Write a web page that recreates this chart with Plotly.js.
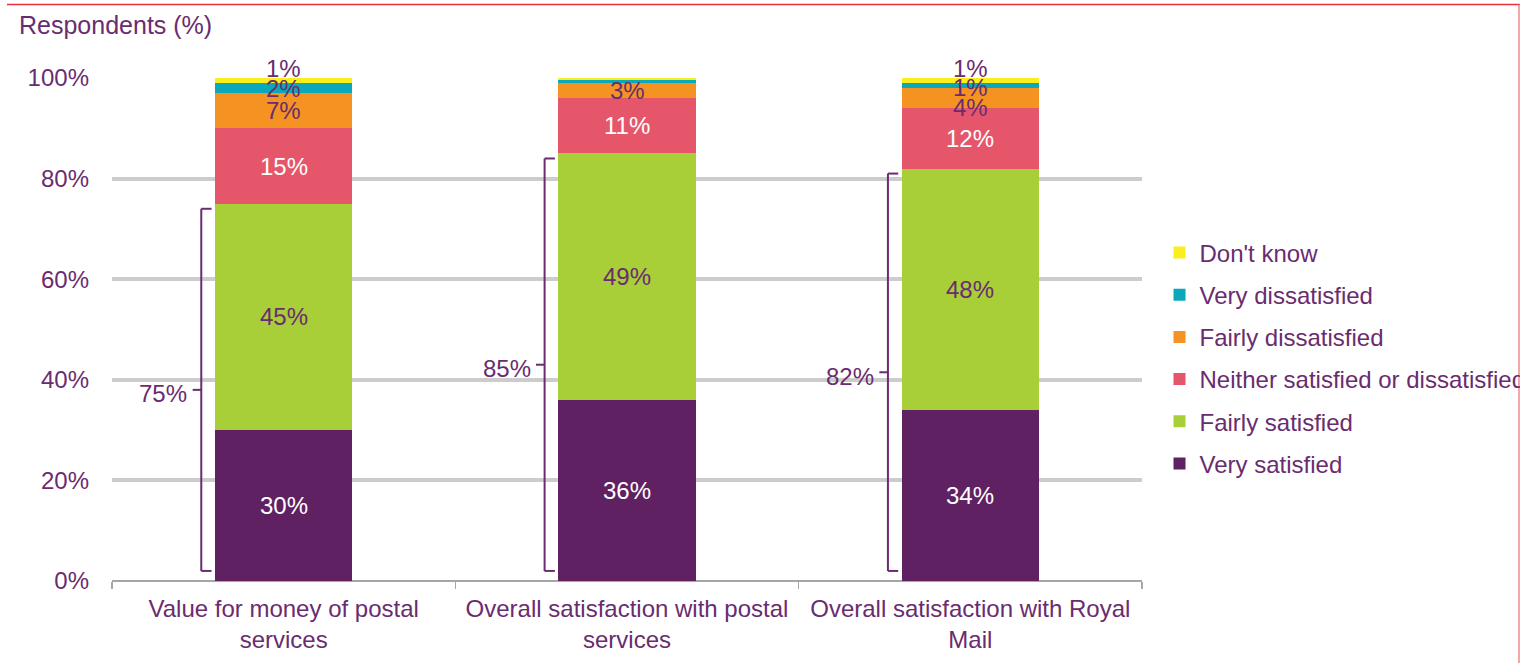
<!DOCTYPE html>
<html>
<head>
<meta charset="utf-8">
<script src="https://cdn.plot.ly/plotly-3.0.1.min.js"></script>
<style>html,body{margin:0;padding:0;background:#fff;overflow:hidden}</style>
</head>
<body>
<div id="chart" style="width:1520px;height:663px"></div>
<script>
// ---- data ----
const categories = ['Value for money of postal services', 'Overall satisfaction with postal services', 'Overall satisfaction with Royal Mail'];
const tickLabels = ['Value for money of postal<br>services', 'Overall satisfaction with postal<br>services', 'Overall satisfaction with Royal<br>Mail'];
const seriesNames = ['Very satisfied', 'Fairly satisfied', 'Neither satisfied or dissatisfied', 'Fairly dissatisfied', 'Very dissatisfied', "Don't know"];
const verySatisfied = [30, 36, 34];
const fairlySatisfied = [45, 49, 48];
const neitherSatisfied = [15, 11, 12];
const fairlyDissatisfied = [7, 3, 4];
const veryDissatisfied = [2, 0.6, 1];
const dontKnow = [1, 0.4, 1];
const yTickVals = [0, 20, 40, 60, 80, 100];
const yTickText = ['0%', '20%', '40%', '60%', '80%', '100%'];

// ---- styling ----
const series = [verySatisfied, fairlySatisfied, neitherSatisfied, fairlyDissatisfied, veryDissatisfied, dontKnow];
const colors = ['#5f2162', '#a8ce38', '#e5566a', '#f49322', '#0aa8b8', '#fbee1d'];
const purple = '#6a2c70';
const labelColors = ['#ffffff', purple, '#ffffff', purple, purple, purple];
const FONT = 'Liberation Sans, Arial, sans-serif';
const FS = 24;
// small manual label nudges (px) for thin segments, as in the reference
const labelShift = {'5-0': 12, '5-2': 12, '4-2': -2, '3-2': -9};

const traces = series.map((vals, i) => ({
  type: 'bar',
  name: seriesNames[i],
  x: categories,
  y: vals,
  width: 0.4,
  marker: {color: colors[i], line: {width: 0}},
  legendgroup: 'g' + i,
  legendrank: series.length - i,
  hoverinfo: 'skip'
}));

const annotations = [];
// segment labels
for (let j = 0; j < categories.length; j++) {
  let base = 0;
  for (let i = 0; i < series.length; i++) {
    const v = series[i][j];
    if (v >= 1) {
      annotations.push({
        x: categories[j], y: base + v / 2, xref: 'x', yref: 'y',
        text: Math.round(v) + '%', showarrow: false,
        font: {family: FONT, size: FS, color: labelColors[i]},
        yshift: labelShift[i + '-' + j] || 0
      });
    }
    base += v;
  }
}

// brackets for total satisfied
const shapes = [];
const bracketBottom = 2;
for (let j = 0; j < categories.length; j++) {
  const total = verySatisfied[j] + fairlySatisfied[j];
  const top = total - 1;
  const mid = (top + bracketBottom) / 2;
  const bx = j - 0.24;
  const ln = {color: purple, width: 2};
  shapes.push({type: 'line', xref: 'x', yref: 'y', x0: bx, x1: bx, y0: bracketBottom, y1: top, line: ln});
  shapes.push({type: 'line', xref: 'x', yref: 'y', x0: bx, x1: bx + 0.03, y0: top, y1: top, line: ln});
  shapes.push({type: 'line', xref: 'x', yref: 'y', x0: bx, x1: bx + 0.03, y0: bracketBottom, y1: bracketBottom, line: ln});
  shapes.push({type: 'line', xref: 'x', yref: 'y', x0: bx, x1: bx - 0.025, y0: mid, y1: mid, line: ln});
  annotations.push({
    x: j - 0.275, y: mid, xref: 'x', yref: 'y', xanchor: 'right',
    text: total + '%', showarrow: false, yshift: -4,
    font: {family: FONT, size: FS, color: purple}
  });
}

// frame lines (red) at top and right
shapes.push({type: 'line', xref: 'paper', yref: 'paper', x0: -0.102, x1: 1.37, y0: 1.146, y1: 1.146, line: {color: '#e8323c', width: 1.5}});
shapes.push({type: 'line', xref: 'paper', yref: 'paper', x0: 1.366, x1: 1.366, y0: 1.146, y1: -0.2, line: {color: '#f08a8f', width: 1.5}});

annotations.push({
  xref: 'paper', yref: 'paper', x: -0.092, y: 1.105, xanchor: 'left', yanchor: 'middle',
  text: 'Respondents (%)', showarrow: false,
  font: {family: FONT, size: 25, color: purple}
});

const layout = {
  width: 1520, height: 663,
  margin: {l: 112, r: 378, t: 78, b: 82, autoexpand: false},
  paper_bgcolor: '#ffffff', plot_bgcolor: '#ffffff',
  barmode: 'stack',
  font: {family: FONT, size: FS, color: purple},
  showlegend: true,
  legend: {
    x: 1.017, y: 0.697, xanchor: 'left', yanchor: 'top',
    traceorder: 'grouped', tracegroupgap: 8,
    font: {family: FONT, size: FS, color: purple},
    bgcolor: 'rgba(0,0,0,0)'
  },
  xaxis: {
    type: 'category',
    tickvals: categories, ticktext: tickLabels,
    tickson: 'boundaries', ticks: 'outside', ticklen: 7, tickcolor: '#a6a6a6', tickwidth: 1.5,
    showgrid: false, showline: false, zeroline: false,
    ticklabelstandoff: 11,
    tickfont: {family: FONT, size: FS, color: purple},
    fixedrange: true
  },
  yaxis: {
    range: [0, 100],
    tickvals: yTickVals, ticktext: yTickText,
    showgrid: true, gridcolor: '#cccccc', gridwidth: 4,
    zeroline: true, zerolinecolor: '#a6a6a6', zerolinewidth: 1.5,
    showline: false, ticks: '', ticklabelstandoff: 22,
    tickfont: {family: FONT, size: FS, color: purple},
    fixedrange: true
  },
  shapes: shapes,
  annotations: annotations
};

Plotly.newPlot('chart', traces, layout, {displayModeBar: false, staticPlot: true});
</script>
</body>
</html>
